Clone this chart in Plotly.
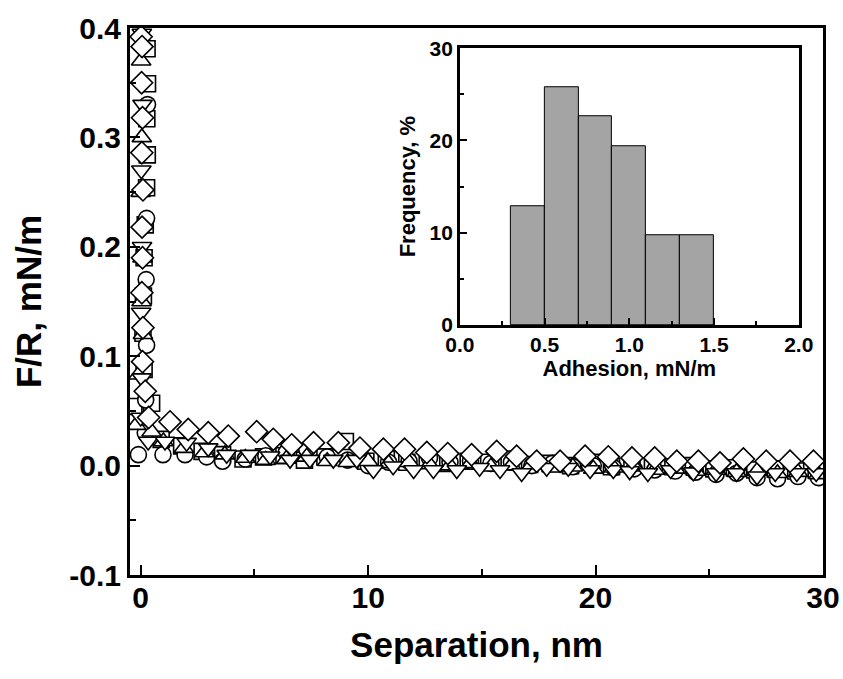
import plotly.graph_objects as go

# ---------------- data ----------------
# diamonds
dia_x = [0.02, 0.06, 0.04, 0.08, 0.05, 0.10, 0.06, 0.08, 0.05, 0.10, 0.08, 0.20, 0.35,
         1.29, 2.09, 2.97, 3.85, 5.10, 5.83, 6.64, 7.60, 8.69, 9.64, 10.67, 11.60, 12.58,
         13.50, 14.55, 15.65, 16.53, 17.41, 18.44, 19.54, 20.56, 21.60, 22.60, 23.57,
         24.52, 25.47, 26.50, 27.50, 28.55, 29.58]
dia_y = [0.392, 0.383, 0.350, 0.318, 0.286, 0.252, 0.218, 0.190, 0.158, 0.126, 0.095, 0.068, 0.044,
         0.040, 0.033, 0.030, 0.027, 0.031, 0.024, 0.019, 0.021, 0.021, 0.016, 0.015, 0.015, 0.012,
         0.011, 0.010, 0.013, 0.0085, 0.004, 0.004, 0.0085, 0.008, 0.007, 0.007, 0.004,
         0.004, 0.0025, 0.006, 0.004, 0.004, 0.004]

# squares
sq_x = [0.28, 0.30, 0.27, 0.29, 0.26, 0.20, 0.15, 0.12, 0.10, 0.15, 0.48, -0.30,
        0.9, 1.8, 2.7, 3.6, 4.5, 5.4, 6.3, 7.2, 8.1, 9.0, 9.9, 10.8, 11.7, 12.6, 13.5,
        14.4, 15.3, 16.2, 17.1, 18.0, 18.9, 19.8, 20.7, 21.6, 22.5, 23.4, 24.3, 25.2,
        26.1, 27.0, 27.9, 28.8, 29.7]
sq_y = [0.381, 0.349, 0.317, 0.284, 0.254, 0.220, 0.190, 0.155, 0.121, 0.088, 0.057, 0.054,
        0.024, 0.018, 0.013, 0.010, 0.006, 0.008, 0.009, 0.005, 0.008, 0.022, 0.004, 0.006,
        0.003, 0.005, 0.002, 0.004, 0.003, 0.006, 0.001, 0.002, 0.000, 0.003, -0.001, 0.001,
        -0.002, -0.001, 0.000, -0.003, -0.002, -0.004, -0.003, -0.005, -0.004]

# circles
ci_x = [0.30, 0.26, 0.24, 0.26, 0.22, 0.20, -0.10,
        0.98, 1.95, 2.9, 3.6, 4.6, 5.5, 6.4, 7.3, 8.2, 9.1, 10.0, 10.9, 11.8, 12.7, 13.6,
        14.5, 15.4, 16.3, 17.2, 18.1, 19.0, 19.9, 20.8, 21.7, 22.6, 23.5, 24.4, 25.3,
        26.2, 27.1, 28.0, 28.9, 29.8]
ci_y = [0.330, 0.226, 0.170, 0.110, 0.060, 0.030, 0.010,
        0.010, 0.010, 0.008, 0.004, 0.006, 0.009, 0.012, 0.015, 0.008, 0.005, 0.000, 0.003,
        0.004, 0.007, 0.003, 0.004, 0.002, 0.003, 0.000, 0.002, -0.001, 0.000, -0.002,
        -0.003, -0.004, -0.005, -0.006, -0.008, -0.007, -0.011, -0.012, -0.010, -0.011]

# up triangles
tu_x = [0.02, 0.05, 0.00, 0.08, 0.04, 0.10, -0.10, -0.20, 0.48,
        1.0, 1.9, 2.8, 3.7, 4.6, 5.5, 6.4, 7.3, 8.2, 9.1, 10.0, 10.9, 11.8, 12.7, 13.6,
        14.5, 15.4, 16.3, 17.2, 18.1, 19.0, 19.9, 20.8, 21.7, 22.6, 23.5, 24.4, 25.3,
        26.2, 27.1, 28.0, 28.9, 29.8]
tu_y = [0.370, 0.300, 0.250, 0.190, 0.150, 0.120, 0.083, 0.037, 0.031,
        0.022, 0.016, 0.012, 0.010, 0.007, 0.005, 0.006, 0.008, 0.004, 0.003, 0.004,
        0.002, 0.003, 0.001, 0.000, 0.002, -0.001, 0.000, 0.001, -0.002, -0.001, -0.003,
        -0.002, -0.001, -0.004, -0.003, -0.005, -0.004, -0.006, -0.005, -0.007, -0.006, -0.008]

# down triangles
td_x = [0.05, 0.08, 0.03, 0.06, 0.02, 0.05, 0.00, 0.33,
        1.07, 2.02, 2.97, 3.78, 4.80, 5.69, 6.57, 7.44, 8.47, 9.50, 10.23, 11.10, 12.00,
        12.87, 13.90, 14.90, 15.80, 16.75, 17.85, 18.80, 19.76, 20.78, 21.50, 22.30,
        23.30, 24.30, 25.30, 26.20, 27.10, 27.90, 28.85, 29.70]
td_y = [0.395, 0.330, 0.270, 0.200, 0.140, 0.080, 0.044, 0.022,
        0.022, 0.021, 0.016, 0.010, 0.010, 0.0085, 0.0055, 0.0055, 0.0055, 0.0055, -0.004,
        -0.0006, -0.004, -0.004, -0.004, -0.002, -0.004, -0.0067, -0.002, -0.002, -0.004,
        -0.004, -0.005, -0.0067, -0.004, -0.006, -0.0067, -0.0067, -0.0098, -0.0067,
        -0.0067, -0.0067]

# inset histogram
hist_centers = [0.4, 0.6, 0.8, 1.0, 1.2, 1.4]
hist_freq = [12.9, 25.8, 22.6, 19.4, 9.7, 9.7]
bin_width = 0.2

main_xticks = [0, 10, 20, 30]
main_yticks = [-0.1, 0.0, 0.1, 0.2, 0.3, 0.4]
inset_xticks = [0.0, 0.5, 1.0, 1.5, 2.0]
inset_yticks = [0, 10, 20, 30]

# ---------------- figure ----------------
FONT = "Liberation Sans"
fig = go.Figure()

def add_series(x, y, symbol, size):
    fig.add_trace(go.Scatter(
        x=x, y=y, mode="markers",
        marker=dict(symbol=symbol, size=size, color="white",
                    line=dict(color="black", width=1.6)),
        showlegend=False, xaxis="x", yaxis="y"))

add_series(sq_x, sq_y, "square", 16)
add_series(ci_x, ci_y, "circle", 16)
add_series(tu_x, tu_y, "triangle-up", 17)
add_series(td_x, td_y, "triangle-down", 17)
add_series(dia_x, dia_y, "diamond", 17)

fig.add_trace(go.Bar(
    x=hist_centers, y=hist_freq, width=bin_width,
    marker=dict(color="#a4a4a4", line=dict(color="black", width=1)),
    showlegend=False, xaxis="x2", yaxis="y2"))

axis_common = dict(showline=True, linecolor="black", mirror=True, ticks="inside",
                   tickcolor="black", showgrid=False, zeroline=False, automargin=False)

fig.update_layout(
    width=843, height=679,
    margin=dict(l=130, r=20, t=28, b=104),
    paper_bgcolor="white", plot_bgcolor="white",
    font=dict(family=FONT, color="black", weight="bold"),
    xaxis=dict(**axis_common, domain=[0, 1], anchor="y", range=[-0.47, 30],
               linewidth=3, ticklen=10, tickwidth=2, ticklabelstandoff=-6,
               tickvals=main_xticks, ticktext=[str(v) for v in main_xticks],
               tickfont=dict(size=30, family=FONT, weight="bold"),
               minor=dict(tickvals=[5, 15, 25], ticklen=6, tickwidth=2, ticks="inside",
                          tickcolor="black"),
               title=dict(text="Separation, nm", standoff=20,
                          font=dict(size=35, family=FONT, weight="bold"))),
    yaxis=dict(**axis_common, domain=[0, 1], anchor="x", range=[-0.1, 0.4],
               linewidth=3, ticklen=10, tickwidth=2, ticklabelstandoff=0,
               tickvals=main_yticks, ticktext=["%.1f" % v for v in main_yticks],
               tickfont=dict(size=30, family=FONT, weight="bold"),
               minor=dict(tickvals=[-0.05, 0.05, 0.15, 0.25, 0.35], ticklen=6, tickwidth=2,
                          ticks="inside", tickcolor="black"),
               title=dict(text="F/R, mN/m", standoff=18,
                          font=dict(size=35, family=FONT, weight="bold"))),
    xaxis2=dict(**axis_common, domain=[0.476, 0.965], anchor="y2", range=[0, 2],
                linewidth=2.5, ticklen=7, tickwidth=1.5, ticklabelstandoff=-1,
                tickvals=inset_xticks, ticktext=["%.1f" % v for v in inset_xticks],
                tickfont=dict(size=21, family=FONT, weight="bold"),
                minor=dict(tickvals=[0.25, 0.75, 1.25, 1.75], ticklen=4, tickwidth=1.5,
                           ticks="inside", tickcolor="black"),
                title=dict(text="Adhesion, mN/m", standoff=2,
                           font=dict(size=22, family=FONT, weight="bold"))),
    yaxis2=dict(**axis_common, domain=[0.457, 0.963], anchor="x2", range=[0, 30],
                linewidth=2.5, ticklen=7, tickwidth=1.5,
                tickvals=inset_yticks, ticktext=[str(v) for v in inset_yticks],
                tickfont=dict(size=21, family=FONT, weight="bold"),
                minor=dict(tickvals=[5, 15, 25], ticklen=4, tickwidth=1.5,
                           ticks="inside", tickcolor="black"),
                title=dict(text="Frequency, %", standoff=8,
                           font=dict(size=22, family=FONT, weight="bold"))),
    bargap=0,
)

fig.write_html("out.html", config={"displayModeBar": False},
               post_script="document.body.style.margin='0';document.body.style.padding='0';")
